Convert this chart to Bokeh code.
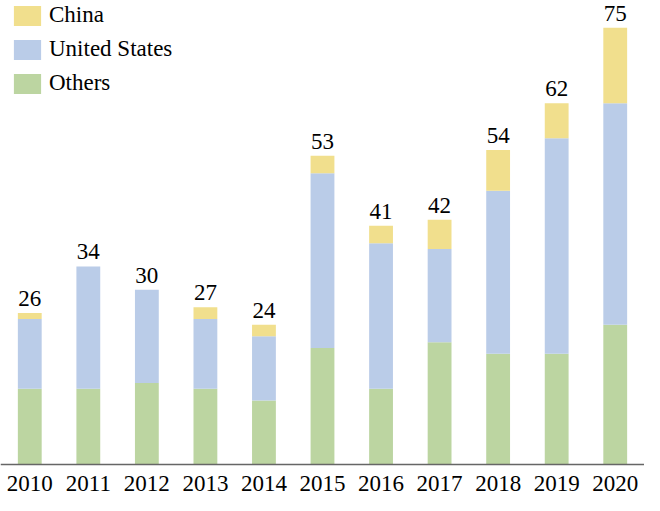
from bokeh.plotting import figure
from bokeh.models import ColumnDataSource, Legend, LegendItem, Range1d, FactorRange, Span
from bokeh.core.properties import value
from bokeh.embed import file_html
from bokeh.resources import INLINE

years = ["2010", "2011", "2012", "2013", "2014", "2015", "2016", "2017", "2018", "2019", "2020"]
others = [13, 13, 14, 13, 11, 20, 13, 21, 19, 19, 24]
united_states = [12, 21, 16, 12, 11, 30, 25, 16, 28, 37, 38]
china = [1, 0, 0, 2, 2, 3, 3, 5, 7, 6, 13]
totals = [26, 34, 30, 27, 24, 53, 41, 42, 54, 62, 75]

series = ["Others", "United States", "China"]
colors = ["#BCD5A1", "#BACCE8", "#F1DF8D"]

source = ColumnDataSource(data=dict(years=years, Others=others,
                                    **{"United States": united_states},
                                    China=china, totals=totals,
                                    labels=[str(t) for t in totals]))

p = figure(x_range=FactorRange(*years, range_padding=0), y_range=Range1d(-1.89, 79.66),
           width=644, height=495, output_backend="svg", toolbar_location=None,
           min_border_left=0, min_border_right=0, min_border_top=0, min_border_bottom=20,
           y_axis_location=None)
p.outline_line_color = None
p.xgrid.grid_line_color = None
p.ygrid.grid_line_color = None
p.background_fill_color = "white"
p.border_fill_color = "white"

renderers = p.vbar_stack(series, x="years", width=0.407, color=colors, source=source,
                         line_color=None)

p.text(x="years", y="totals", text="labels", source=source,
       text_align="center", text_baseline="bottom", y_offset=-7,
       text_font=value("Liberation Serif"), text_font_size="23px", text_color="black")

baseline = Span(location=0, dimension="width", line_color="#666666", line_width=1.5)
p.add_layout(baseline)

xa = p.xaxis[0]
xa.axis_line_color = None
xa.major_tick_line_color = None
xa.minor_tick_line_color = None
xa.major_tick_out = 0
xa.major_tick_in = 0
xa.major_label_standoff = 0
xa.major_label_text_font = "Liberation Serif"
xa.major_label_text_font_size = "23px"
xa.major_label_text_color = "black"

items = [LegendItem(label="China", renderers=[renderers[2]]),
         LegendItem(label="United States", renderers=[renderers[1]]),
         LegendItem(label="Others", renderers=[renderers[0]])]
legend = Legend(items=items, location=(10, 379), orientation="vertical",
                glyph_width=34, glyph_height=25, label_standoff=5, spacing=8,
                padding=0, margin=0, border_line_color=None, background_fill_alpha=0,
                label_text_font="Liberation Serif", label_text_font_size="23px",
                label_text_color="black")
p.add_layout(legend, "center")

open("out.html", "w").write(file_html(p, INLINE))
